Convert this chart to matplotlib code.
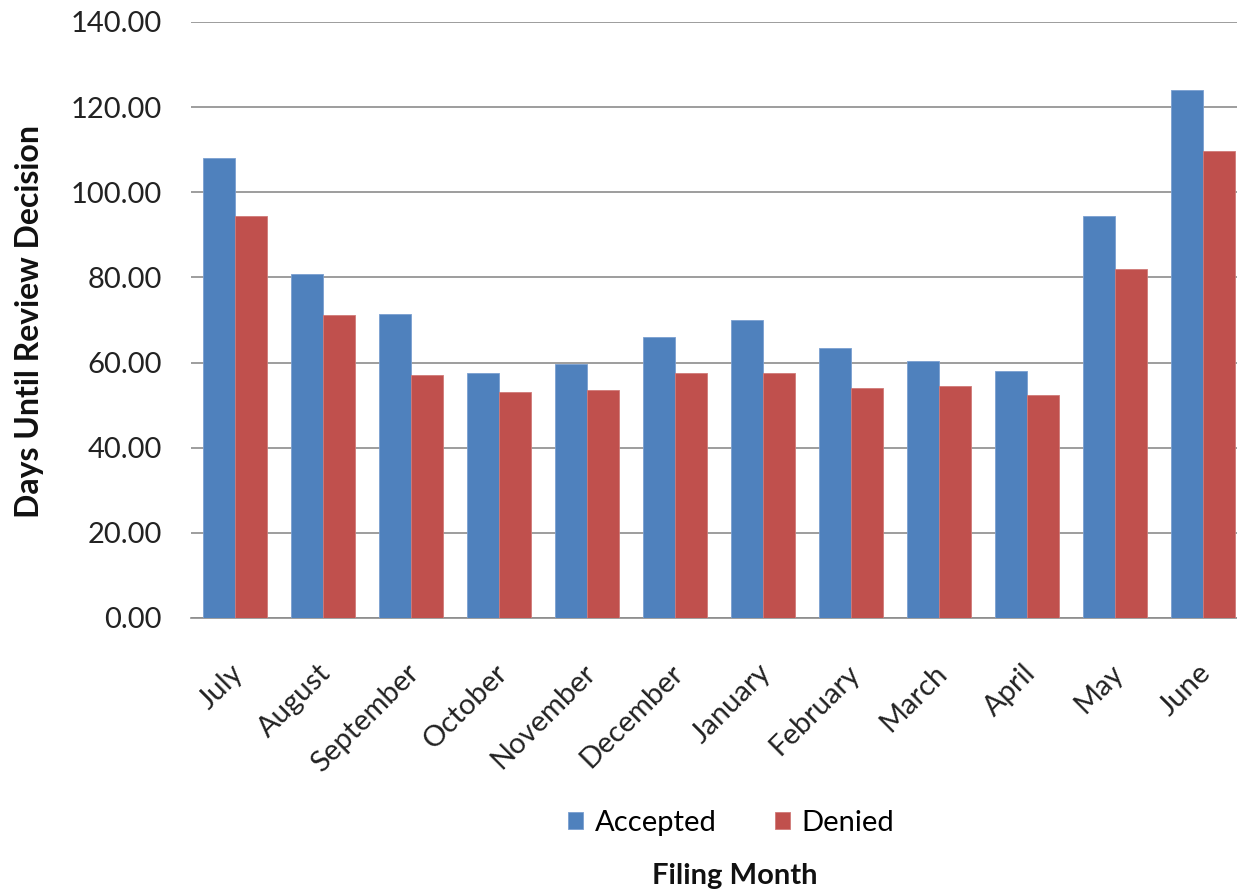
import numpy as np
import matplotlib
matplotlib.use('Agg')
import matplotlib.pyplot as plt
import matplotlib.transforms as mtransforms

# Data
months = ['July', 'August', 'September', 'October', 'November', 'December',
          'January', 'February', 'March', 'April', 'May', 'June']
accepted = [108.1, 80.7, 71.5, 57.6, 59.7, 65.9, 70.0, 63.5, 60.4, 58.0, 94.4, 124.1]
denied = [94.4, 71.2, 57.1, 53.1, 53.6, 57.5, 57.5, 54.0, 54.5, 52.4, 82.0, 109.7]
yticks = [0, 20, 40, 60, 80, 100, 120, 140]

plt.rcParams['font.family'] = ['Lato', 'DejaVu Sans']

fig = plt.figure(figsize=(12.37, 8.94), dpi=100)
ax = fig.add_axes([191 / 1237, 276 / 894, 1056 / 1237, 596 / 894])

x = np.arange(len(months))
w = 0.364
b1 = ax.bar(x - w / 2, accepted, w, color='#4F81BD', edgecolor='#7A9FD0', linewidth=0.6, label='Accepted', zorder=3)
b2 = ax.bar(x + w / 2, denied, w, color='#C0504D', edgecolor='#D07A78', linewidth=0.6, label='Denied', zorder=3)

ax.set_xlim(-0.5, len(months) - 0.5)
ax.set_ylim(0, 140)
ax.set_yticks(yticks)
ax.set_yticklabels([f'{v:.2f}' for v in yticks], fontsize=21, color='#222222')
ax.yaxis.grid(True, color='#8C8C8C', linewidth=1.2, zorder=0)
ax.tick_params(axis='y', length=0, pad=21)

ax.set_xticks(x)
ax.set_xticklabels(months, rotation=45, ha='right', va='top', rotation_mode='anchor',
                   fontsize=21, color='#222222')
ax.tick_params(axis='x', length=0, pad=30)
shift = mtransforms.ScaledTranslation(-5 / 100, 0, fig.dpi_scale_trans)
for lbl in ax.get_xticklabels():
    lbl.set_transform(lbl.get_transform() + shift)

for s in ['top', 'right', 'left']:
    ax.spines[s].set_visible(False)
ax.spines['bottom'].set_color('#8C8C8C')
ax.spines['bottom'].set_linewidth(1.2)

fig.text(30 / 1237, 1 - 321 / 894, 'Days Until Review Decision', rotation=90,
         ha='center', va='center', fontsize=23, fontweight='bold', color='#111111')
fig.text(735 / 1237, 1 - 876 / 894, 'Filing Month', ha='center', va='center',
         fontsize=21, fontweight='bold', color='#111111')

fig.legend(handles=[b1, b2], labels=['Accepted', 'Denied'], loc='center',
           bbox_to_anchor=(731 / 1237, 1 - 823 / 894), ncol=2, frameon=False,
           fontsize=21, handlelength=0.52, handleheight=0.52, handletextpad=0.4,
           columnspacing=2.0)

fig.savefig('out.png', dpi=100)
